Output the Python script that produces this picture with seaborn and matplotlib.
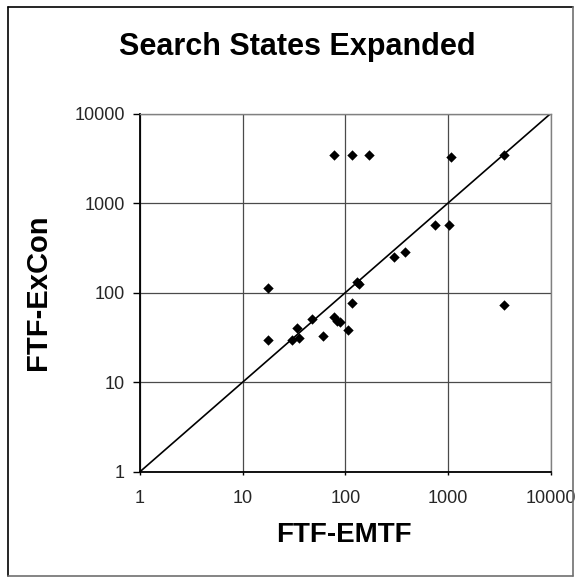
import matplotlib
matplotlib.use("Agg")
import matplotlib.pyplot as plt
from matplotlib.lines import Line2D
import seaborn as sns
import pandas as pd

# Search states expanded by each planner on the same problems
ftf_emtf = [77, 116, 170, 1075, 3480, 755, 1020, 17.7, 17.7, 30.3, 33.7, 35.5,
            46.9, 60.8, 78, 82, 88.6, 107, 116, 131, 136, 296, 385, 3540]
ftf_excon = [3440, 3440, 3440, 3270, 3440, 575, 575, 114, 29.3, 29.3, 40.6, 31.1,
             50.5, 32.8, 54, 48.3, 47.4, 38.6, 77, 130, 124.5, 247, 284, 72.4]

# Reference line y = x across the axis range
diag_x = [1, 10000]
diag_y = [1, 10000]

tick_values = [1, 10, 100, 1000, 10000]
tick_labels = ["1", "10", "100", "1000", "10000"]

sns.set_theme(style="white")
plt.rcParams["font.family"] = ["Liberation Sans", "DejaVu Sans"]

W, H = 580, 577
fig = plt.figure(figsize=(W / 100, H / 100), dpi=100)
fig.patch.set_facecolor("white")

ax = fig.add_axes([140 / W, 1 - 471.7 / H, (550.7 - 140) / W, (471.7 - 113.5) / H])

df = pd.DataFrame({"FTF-EMTF": ftf_emtf, "FTF-ExCon": ftf_excon})
sns.lineplot(x=diag_x, y=diag_y, ax=ax, color="black", linewidth=1.2)
sns.scatterplot(data=df, x="FTF-EMTF", y="FTF-ExCon", ax=ax, marker="D",
                color="black", s=28, edgecolor="black", linewidth=0, zorder=5)

ax.set_xscale("log")
ax.set_yscale("log")
ax.set_xlim(1, 10000)
ax.set_ylim(1, 10000)
ax.set_xticks(tick_values)
ax.set_xticklabels(tick_labels)
ax.set_yticks(tick_values)
ax.set_yticklabels(tick_labels)
ax.minorticks_off()

ax.grid(True, which="major", color="#4a4a4a", linewidth=0.9)
ax.set_axisbelow(True)

for side in ("top", "right"):
    ax.spines[side].set_color("#808080")
    ax.spines[side].set_linewidth(1.0)
for side in ("left", "bottom"):
    ax.spines[side].set_color("black")
    ax.spines[side].set_linewidth(1.3)

ax.tick_params(axis="x", direction="out", length=2.5, width=1, color="black",
               labelsize=13, pad=11, bottom=True)
ax.tick_params(axis="y", direction="out", length=5, width=1, color="black",
               labelsize=13, pad=6, left=True)
ax.set_xlabel("")
ax.set_ylabel("")

fig.text(297 / W, 1 - 47 / H, "Search States Expanded", ha="center", va="center",
         fontsize=22, fontweight="bold", color="black")
fig.text(344 / W, 1 - 535 / H, "FTF-EMTF", ha="center", va="center",
         fontsize=20, fontweight="bold", color="black")
fig.text(38 / W, 1 - 292 / H, "FTF-ExCon", ha="center", va="center",
         rotation=90, fontsize=21, fontweight="bold", color="black")

# Chart border
l, r, t, b = 8.3 / W, 573 / W, 1 - 7 / H, 1 - 576 / H
fig.add_artist(Line2D([l, l], [b, t], transform=fig.transFigure, color="black", lw=1.2))
fig.add_artist(Line2D([l, r], [t, t], transform=fig.transFigure, color="black", lw=1.2))
fig.add_artist(Line2D([l, r], [b, b], transform=fig.transFigure, color="#707070", lw=1.2))
fig.add_artist(Line2D([r, r], [b, t], transform=fig.transFigure, color="#707070", lw=1.2))

fig.savefig("out.png", dpi=100)
